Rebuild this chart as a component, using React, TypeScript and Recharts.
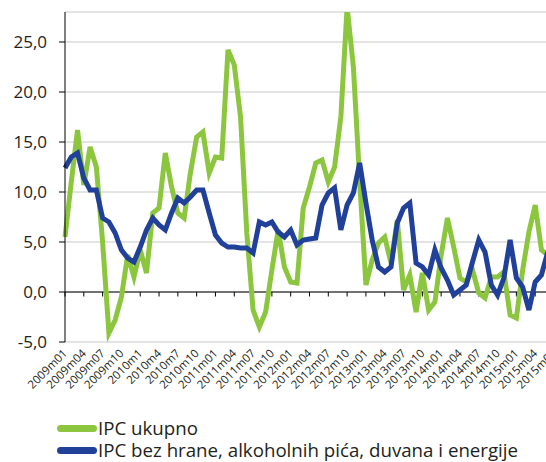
import React from 'react';
import { LineChart, Line, XAxis, YAxis, CartesianGrid, ReferenceLine, Legend } from 'recharts';

const categories = [
  '2009m01','2009m02','2009m03','2009m04','2009m05','2009m06','2009m07','2009m08','2009m09','2009m10','2009m11','2009m12',
  '2010m1','2010m2','2010m3','2010m4','2010m5','2010m6','2010m7','2010m8','2010m9','2010m10','2010m11','2010m12',
  '2011m01','2011m02','2011m03','2011m04','2011m05','2011m06','2011m07','2011m08','2011m09','2011m10','2011m11','2011m12',
  '2012m01','2012m02','2012m03','2012m04','2012m05','2012m06','2012m07','2012m08','2012m09','2012m10','2012m11','2012m12',
  '2013m01','2013m02','2013m03','2013m04','2013m05','2013m06','2013m07','2013m08','2013m09','2013m10','2013m11','2013m12',
  '2014m01','2014m02','2014m03','2014m04','2014m05','2014m06','2014m07','2014m08','2014m09','2014m10','2014m11','2014m12',
  '2015m01','2015m02','2015m03','2015m04','2015m05','2015m06','2015m07',
];

const ipcUkupno = [
  5.5, 11.0, 16.2, 10.7, 14.5, 12.5, 5.0, -4.1, -2.8, -0.5, 3.7, 1.5,
  4.2, 1.9, 7.9, 8.4, 13.9, 10.5, 7.9, 7.4, 11.9, 15.5, 16.0, 11.9,
  13.5, 13.4, 24.2, 22.7, 17.5, 5.9, -1.8, -3.5, -2.0, 2.2, 6.2, 2.5,
  1.0, 0.9, 8.4, 10.5, 12.9, 13.2, 11.0, 12.5, 17.5, 28.5, 22.5, 11.2,
  0.7, 3.2, 4.9, 5.5, 2.9, 7.2, 0.2, 1.7, -2.0, 1.9, -1.8, -1.0,
  3.7, 7.4, 4.5, 1.4, 1.0, 2.2, -0.1, -0.6, 1.5, 1.5, 2.0, -2.3,
  -2.6, 2.2, 6.0, 8.7, 4.2, 3.7, null,
];

const ipcBezHrane = [
  12.4, 13.5, 13.9, 11.4, 10.2, 10.2, 7.4, 7.0, 5.9, 4.2, 3.4, 3.0,
  4.5, 6.2, 7.4, 6.7, 6.2, 7.9, 9.4, 8.9, 9.5, 10.2, 10.2, 7.9,
  5.7, 4.9, 4.5, 4.5, 4.4, 4.4, 3.9, 7.0, 6.7, 7.0, 6.0, 5.5,
  6.2, 4.7, 5.2, 5.3, 5.4, 8.7, 9.9, 10.4, 6.2, 8.7, 9.9, 12.9,
  8.9, 5.2, 2.5, 2.0, 2.5, 6.9, 8.4, 8.9, 2.9, 2.5, 1.7, 4.2,
  2.4, 1.2, -0.3, 0.2, 0.7, 3.0, 5.2, 4.0, 0.7, -0.3, 1.4, 5.2,
  1.4, 0.5, -1.8, 1.0, 1.7, 4.0, null,
];

const yTicks = [-5, 0, 5, 10, 15, 20, 25];

const seriesNames = ['IPC ukupno', 'IPC bez hrane, alkoholnih pića, duvana i energije'];
const seriesColors = ['#8cc63f', '#21409a'];

const data = categories.map((c, i) => ({ cat: c, a: ipcUkupno[i], b: ipcBezHrane[i] }));
const tickCats = categories.filter((_, i) => i % 3 === 0);

const FONT = '"Open Sans", sans-serif';

const XTick = (props: any) => {
  const { x, y, payload } = props;
  const ax = x + 3;
  const ay = y + 12;
  return (
    <text x={ax} y={ay} transform={`rotate(-45 ${ax} ${ay})`} textAnchor="end" fontSize={11.5} fontFamily={FONT} fill="#231f20">
      {payload.value}
    </text>
  );
};

const LegendContent = () => (
  <div style={{ fontFamily: FONT }}>
    {seriesNames.map((n, i) => (
      <div key={n} style={{ display: 'flex', alignItems: 'center', height: 22, lineHeight: '22px', whiteSpace: 'nowrap' }}>
        <span style={{ display: 'inline-block', width: 40, height: 7, borderRadius: 4, background: seriesColors[i] }} />
        <span style={{ fontSize: 18.7, color: '#231f20', marginLeft: 1 }}>{n}</span>
      </div>
    ))}
  </div>
);

export default function App() {
  return (
    <div style={{ position: 'absolute', left: 0, top: 0, width: 546, height: 462, overflow: 'hidden', background: '#fff' }}>
      <LineChart width={560} height={462} data={data} margin={{ top: 12, right: 6, bottom: 0, left: 0 }}>
        <CartesianGrid horizontal vertical={false} stroke="#c8c8c8" strokeWidth={1} />
        <XAxis
          dataKey="cat"
          interval={2}
          axisLine={false}
          tickLine={false}
          tickSize={0}
          tickMargin={0}
          height={120}
          tick={<XTick />}
        />
        <YAxis
          domain={[-5, 28]}
          allowDataOverflow
          ticks={yTicks}
          width={65}
          axisLine={{ stroke: '#000', strokeWidth: 1 }}
          tickLine={{ stroke: '#000' }}
          tickSize={6}
          tickMargin={12}
          tickFormatter={(v: number) => v.toFixed(1).replace('.', ',')}
          tick={{ fontSize: 17, fontFamily: FONT, fill: '#231f20' }}
        />
        <ReferenceLine y={0} stroke="#000" strokeWidth={1} />
        {tickCats.map((c) => (
          <ReferenceLine key={c} segment={[{ x: c, y: 0 }, { x: c, y: -0.45 }]} stroke="#000" strokeWidth={1} />
        ))}
        <Line type="linear" dataKey="a" name={seriesNames[0]} stroke={seriesColors[0]} strokeWidth={5} dot={false} isAnimationActive={false} />
        <Line type="linear" dataKey="b" name={seriesNames[1]} stroke={seriesColors[1]} strokeWidth={5} dot={false} isAnimationActive={false} />
        <Legend
          layout="vertical"
          align="center"
          verticalAlign="middle"
          content={<LegendContent />}
          wrapperStyle={{ left: 57, top: 417, width: 489, height: 44 }}
        />
      </LineChart>
    </div>
  );
}
